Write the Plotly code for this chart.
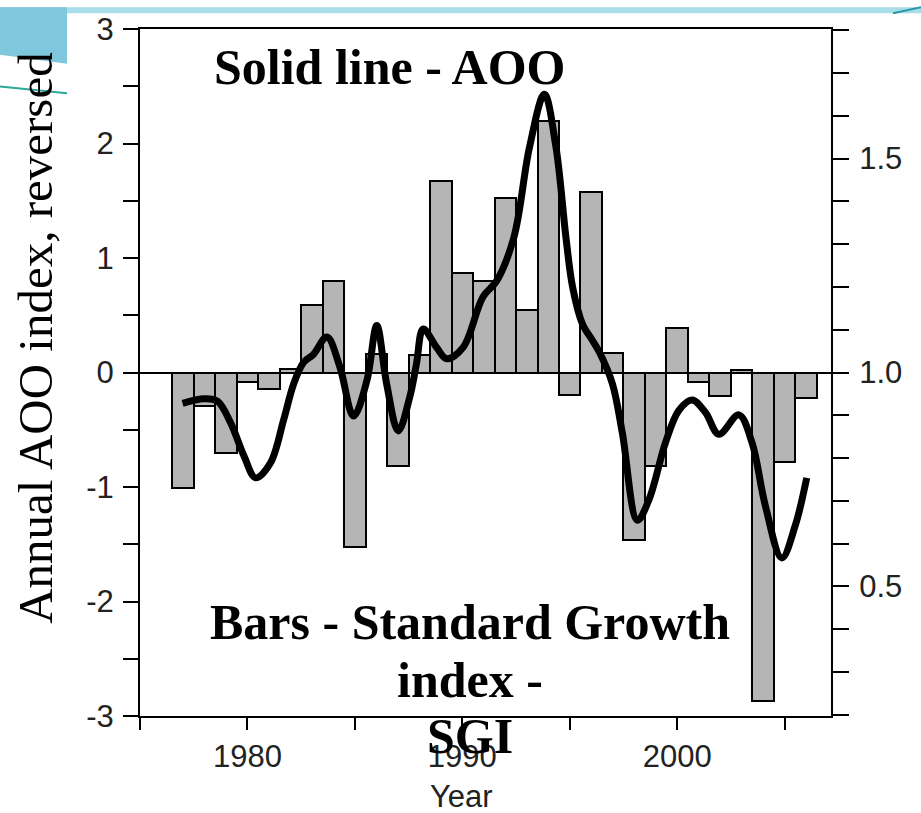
import plotly.graph_objects as go

# ---- data ----
years = list(range(1977, 2007))
sgi = [0.729, 0.921, 0.812, 0.978, 0.961, 1.008, 1.158, 1.214, 0.592, 1.044,
       0.782, 1.040, 1.448, 1.233, 1.215, 1.408, 1.146, 1.587, 0.947, 1.421,
       1.046, 0.608, 0.782, 1.104, 0.978, 0.944, 1.005, 0.233, 0.791, 0.940]
sgi_base = 1.0

aoo_year = [1976.98, 1977.98, 1978.6, 1979.22, 1979.84, 1980.38, 1981.07, 1981.69, 1982.15, 1982.62,
            1983.08, 1983.7, 1984.3, 1984.94, 1985.56, 1986.02, 1986.48, 1987.02, 1987.56, 1987.87,
            1988.18, 1988.8, 1989.27, 1990.04, 1990.96, 1991.6, 1992.4, 1993.13, 1993.82, 1994.35,
            1994.83, 1995.14, 1995.6, 1996.06, 1996.4, 1996.99, 1997.45, 1998.15, 1998.69, 1999.46,
            2000.08, 2000.7, 2001.32, 2001.94, 2002.87, 2003.48, 2004.1, 2004.87, 2005.49, 2006.03]
aoo = [-0.27, -0.23, -0.25, -0.44, -0.73, -0.92, -0.79, -0.41, -0.10, 0.09,
       0.16, 0.31, 0.05, -0.38, -0.07, 0.41, -0.10, -0.51, -0.21, 0.08,
       0.38, 0.22, 0.12, 0.22, 0.66, 0.80, 1.18, 1.97, 2.43, 1.98,
       1.17, 0.74, 0.42, 0.28, 0.17, -0.10, -0.53, -1.29, -1.11, -0.61,
       -0.33, -0.24, -0.35, -0.54, -0.37, -0.61, -1.16, -1.62, -1.34, -0.92]

x_ticks = [1975, 1980, 1985, 1990, 1995, 2000, 2005]
x_ticktext = ["", "1980", "", "1990", "", "2000", ""]
left_ticks = [-3, -2.5, -2, -1.5, -1, -0.5, 0, 0.5, 1, 1.5, 2, 2.5, 3]
left_ticktext = ["-3", "", "-2", "", "-1", "", "0", "", "1", "", "2", "", "3"]
right_ticks = [0.2, 0.3, 0.4, 0.5, 0.6, 0.7, 0.8, 0.9, 1.0, 1.1, 1.2, 1.3, 1.4, 1.5, 1.6, 1.7, 1.8]
right_ticktext = ["", "", "", "0.5", "", "", "", "", "1.0", "", "", "", "", "1.5", "", "", ""]

# ---- layout geometry (pixels) ----
W, H = 921, 813
ML, MR, MT, MB = 140, 90, 22, 97
PW, PH = W - ML - MR, H - MT - MB


def px(x):
    return (x - ML) / PW


def py(y):
    return (H - MB - y) / PH


fig = go.Figure()
fig.add_trace(go.Bar(
    x=years, y=[v - sgi_base for v in sgi], base=sgi_base, width=1.0,
    marker=dict(color="#b5b5b5", line=dict(color="black", width=2)),
    yaxis="y2", showlegend=False,
))
fig.add_trace(go.Scatter(
    x=aoo_year, y=aoo, mode="lines", yaxis="y",
    line=dict(color="black", width=7, shape="spline", smoothing=1.0),
    showlegend=False,
))

tickfont = dict(family="Liberation Sans, Arial, sans-serif", size=31, color="#222")
fig.update_layout(
    width=W, height=H, autosize=False,
    margin=dict(l=ML, r=MR, t=MT, b=MB, pad=0),
    paper_bgcolor="white", plot_bgcolor="white",
    bargap=0,
    xaxis=dict(range=[1975, 2007.16], tickmode="array", tickvals=x_ticks, ticktext=x_ticktext,
               ticks="outside", ticklen=12, tickwidth=2, tickcolor="black",
               showline=True, linecolor="black", linewidth=2, mirror=True,
               showgrid=False, zeroline=False, tickfont=tickfont),
    yaxis2=dict(range=[0.197, 1.803], side="right", anchor="x",
                tickmode="array", tickvals=right_ticks, ticktext=right_ticktext,
                ticks="outside", ticklen=16, tickwidth=2, tickcolor="black",
                showline=True, linecolor="black", linewidth=2, ticklabelstandoff=4,
                showgrid=False, zeroline=False, tickfont=tickfont),
    yaxis=dict(range=[-3, 3], side="left", overlaying="y2",
               tickmode="array", tickvals=left_ticks, ticktext=left_ticktext,
               ticks="outside", ticklen=15, tickwidth=2, tickcolor="black",
               showline=True, linecolor="black", linewidth=2, ticklabelstandoff=3,
               showgrid=False, zeroline=True, zerolinecolor="black", zerolinewidth=2,
               tickfont=tickfont),
)

serif_b = dict(family="Liberation Serif, Times New Roman, serif", size=50, color="black")
anns = [
    dict(text="<b>Solid line - AOO</b>", x=px(389), y=py(60)),
    dict(text="<b>Bars - Standard Growth</b>", x=px(470), y=py(621)),
    dict(text="<b>index -</b>", x=px(470), y=py(680)),
    dict(text="<b>SGI</b>", x=px(470), y=py(736)),
]
for a in anns:
    fig.add_annotation(xref="paper", yref="paper", showarrow=False,
                       xanchor="center", yanchor="middle", font=serif_b, **a)

fig.add_annotation(text="Annual AOO index, reversed", xref="paper", yref="paper",
                   x=px(36), y=py(334), textangle=-90, showarrow=False,
                   xanchor="center", yanchor="middle",
                   font=dict(family="Liberation Serif, Times New Roman, serif", size=49, color="black"))
fig.add_annotation(text="Year", xref="paper", yref="paper", x=px(461), y=py(797),
                   showarrow=False, xanchor="center", yanchor="middle",
                   font=dict(family="Liberation Sans, Arial, sans-serif", size=31, color="#222"))

# slide decorations
fig.add_shape(type="rect", xref="paper", yref="paper", x0=px(0), x1=px(W), y0=py(0), y1=py(6),
              fillcolor="#a8dde9", line=dict(width=0), layer="below")
fig.add_shape(type="path", xref="paper", yref="paper",
              path=f"M {px(0)},{py(0)} L {px(67)},{py(0)} L {px(67)},{py(57)} L {px(0)},{py(48)} Z",
              fillcolor="#7fc7dc", line=dict(width=0), layer="below")
fig.add_shape(type="line", xref="paper", yref="paper", x0=px(0), y0=py(80), x1=px(67), y1=py(87),
              line=dict(color="#2aa99a", width=2), layer="below")
fig.add_shape(type="line", xref="paper", yref="paper", x0=px(893), y0=py(6), x1=px(921), y1=py(0),
              line=dict(color="#2a9aa9", width=2), layer="below")

fig.write_html("out.html")
